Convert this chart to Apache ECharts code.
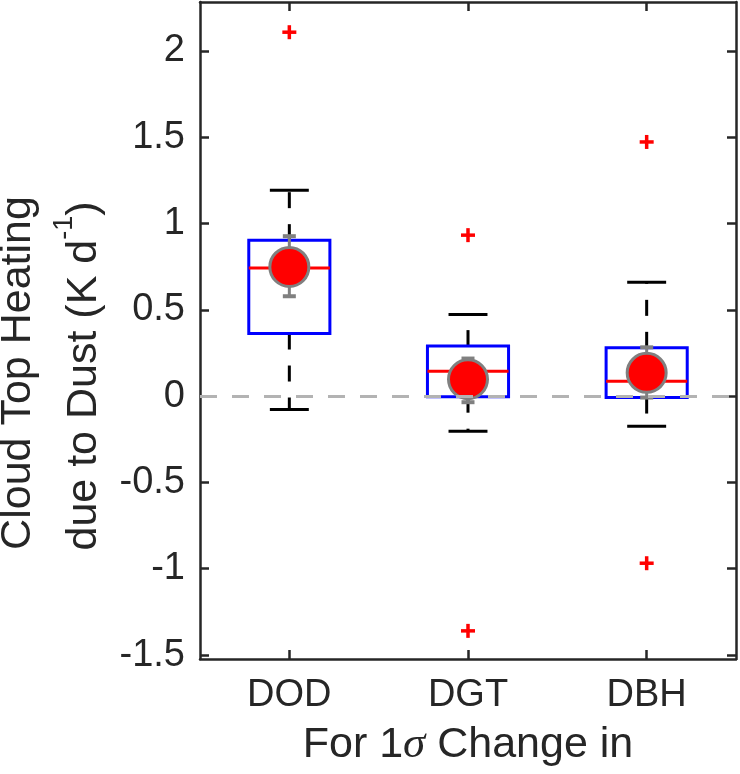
<!DOCTYPE html>
<html>
<head>
<meta charset="utf-8">
<script src="https://cdn.jsdelivr.net/npm/echarts@6.0.0/dist/echarts.min.js"></script>
<style>
  html, body { margin: 0; padding: 0; background: #ffffff; }
  #chart { width: 740px; height: 774px; }
</style>
</head>
<body>
<div id="chart"></div>
<script>
// ---- data ----
const categories = ['DOD', 'DGT', 'DBH'];
const lowerWhisker = [-0.077, -0.203, -0.174];
const q1 = [0.363, -0.003, -0.008];
const median = [0.743, 0.145, 0.087];
const q3 = [0.904, 0.290, 0.280];
const upperWhisker = [1.193, 0.473, 0.660];
const meanVal = [0.749, 0.098, 0.135];
const meanLow = [0.579, -0.035, -0.008];
const meanHigh = [0.927, 0.218, 0.283];
const outlierCat = [0, 1, 1, 2, 2];
const outlierVal = [2.109, 0.933, -1.360, 1.473, -0.968];
const yTicks = [-1.5, -1, -0.5, 0, 0.5, 1, 1.5, 2];
const yMin = -1.523, yMax = 2.284;

const FONT = '"Liberation Sans", Arial, Helvetica, sans-serif';
const AX = '#262626';

const boxData = categories.map((c, i) => [i, lowerWhisker[i], q1[i], median[i], q3[i], upperWhisker[i]]);
const meanData = categories.map((c, i) => [i, meanVal[i], meanLow[i], meanHigh[i]]);
const outlierData = outlierCat.map((c, i) => [c, outlierVal[i]]);

const chart = echarts.init(document.getElementById('chart'), null, { renderer: 'canvas' });

function renderBox(params, api) {
  const x = api.value(0);
  const band = api.size([1, 0])[0];
  const hw = band * 0.227;   // box half width
  const cw = band * 0.109;   // whisker cap half width
  const pLow = api.coord([x, api.value(1)]);
  const pQ1 = api.coord([x, api.value(2)]);
  const pMed = api.coord([x, api.value(3)]);
  const pQ3 = api.coord([x, api.value(4)]);
  const pUp = api.coord([x, api.value(5)]);
  const cx = pMed[0];
  const whisk = { stroke: '#000000', lineWidth: 3, lineDash: [16, 16] };
  const cap = { stroke: '#000000', lineWidth: 3 };
  return {
    type: 'group',
    children: [
      { type: 'line', shape: { x1: cx, y1: pQ3[1], x2: cx, y2: pUp[1] }, style: whisk },
      { type: 'line', shape: { x1: cx, y1: pQ1[1], x2: cx, y2: pLow[1] }, style: whisk },
      { type: 'line', shape: { x1: cx - cw, y1: pUp[1], x2: cx + cw, y2: pUp[1] }, style: cap },
      { type: 'line', shape: { x1: cx - cw, y1: pLow[1], x2: cx + cw, y2: pLow[1] }, style: cap },
      { type: 'rect', shape: { x: cx - hw, y: pQ3[1], width: 2 * hw, height: pQ1[1] - pQ3[1] },
        style: { fill: 'none', stroke: '#0000FF', lineWidth: 3 } },
      { type: 'line', shape: { x1: cx - hw, y1: pMed[1], x2: cx + hw, y2: pMed[1] },
        style: { stroke: '#FF0000', lineWidth: 3 } }
    ]
  };
}

function renderMean(params, api) {
  const x = api.value(0);
  const pM = api.coord([x, api.value(1)]);
  const pL = api.coord([x, api.value(2)]);
  const pH = api.coord([x, api.value(3)]);
  const cx = pM[0];
  const g = '#808080';
  return {
    type: 'group',
    children: [
      { type: 'line', shape: { x1: cx, y1: pL[1], x2: cx, y2: pH[1] }, style: { stroke: g, lineWidth: 3 } },
      { type: 'line', shape: { x1: cx - 6.5, y1: pL[1], x2: cx + 6.5, y2: pL[1] }, style: { stroke: g, lineWidth: 4 } },
      { type: 'line', shape: { x1: cx - 6.5, y1: pH[1], x2: cx + 6.5, y2: pH[1] }, style: { stroke: g, lineWidth: 4 } },
      { type: 'circle', shape: { cx: cx, cy: pM[1], r: 19.5 }, style: { fill: '#FF0000', stroke: g, lineWidth: 3 } }
    ]
  };
}

function renderOutlier(params, api) {
  const p = api.coord([api.value(0), api.value(1)]);
  const s = 7;
  const st = { stroke: '#FF0000', lineWidth: 3.5 };
  return {
    type: 'group',
    children: [
      { type: 'line', shape: { x1: p[0] - s, y1: p[1], x2: p[0] + s, y2: p[1] }, style: st },
      { type: 'line', shape: { x1: p[0], y1: p[1] - s, x2: p[0], y2: p[1] + s }, style: st }
    ]
  };
}

const axisLineStyle = { show: true, onZero: false, lineStyle: { color: AX, width: 2.5 } };

const option = {
  backgroundColor: '#ffffff',
  animation: false,
  grid: { left: 200, right: 4, top: 2, bottom: 115, containLabel: false },
  xAxis: [
    {
      type: 'category', data: categories, position: 'bottom', boundaryGap: true,
      axisLine: axisLineStyle,
      axisTick: { show: true, inside: true, alignWithLabel: true, length: 9, lineStyle: { color: AX, width: 2.5 } },
      axisLabel: { show: true, margin: 18, color: AX, fontSize: 38, fontFamily: FONT },
      splitLine: { show: false },
      name: 'For 1{s|σ} Change in', nameLocation: 'middle', nameGap: 64,
      nameTextStyle: {
        color: AX, fontSize: 43, fontFamily: FONT,
        rich: { s: { color: AX, fontSize: 45, fontFamily: '"Liberation Serif", "DejaVu Serif", serif', fontStyle: 'italic' } }
      }
    },
    {
      type: 'category', data: categories, position: 'top', boundaryGap: true,
      axisLine: axisLineStyle,
      axisTick: { show: true, inside: true, alignWithLabel: true, length: 9, lineStyle: { color: AX, width: 2.5 } },
      axisLabel: { show: false }, splitLine: { show: false }
    }
  ],
  yAxis: [
    {
      type: 'value', min: yMin, max: yMax, position: 'left',
      axisLine: axisLineStyle,
      axisTick: { show: true, inside: true, length: 9, customValues: yTicks, lineStyle: { color: AX, width: 2.5 } },
      axisLabel: { show: true, margin: 15, color: AX, fontSize: 38, fontFamily: FONT, customValues: yTicks },
      splitLine: { show: false }
    },
    {
      type: 'value', min: yMin, max: yMax, position: 'right',
      axisLine: axisLineStyle,
      axisTick: { show: true, inside: true, length: 9, customValues: yTicks, lineStyle: { color: AX, width: 2.5 } },
      axisLabel: { show: false }, splitLine: { show: false }
    }
  ],
  graphic: [
    {
      type: 'text', x: 18, y: 373, rotation: Math.PI / 2, silent: true,
      style: { text: 'Cloud Top Heating', fill: AX, fontSize: 43, fontFamily: FONT, align: 'center', verticalAlign: 'middle' }
    },
    {
      type: 'text', x: 84, y: 376, rotation: Math.PI / 2, silent: true,
      style: {
        text: '{a|due to Dust (K d}{s|-1}{a|)}', align: 'center', verticalAlign: 'middle',
        rich: {
          a: { fill: AX, fontSize: 43, fontFamily: FONT, lineHeight: 72 },
          s: { fill: AX, fontSize: 27, fontFamily: FONT, lineHeight: 27, verticalAlign: 'middle', padding: [0, 0, 38, 0] }
        }
      }
    }
  ],
  series: [
    { name: 'box', type: 'custom', renderItem: renderBox, data: boxData, z: 2, xAxisIndex: 0, yAxisIndex: 0,
      encode: { x: 0, y: [1, 2, 3, 4, 5] } },
    { name: 'mean', type: 'custom', renderItem: renderMean, data: meanData, z: 3, xAxisIndex: 0, yAxisIndex: 0,
      encode: { x: 0, y: [1, 2, 3] } },
    { name: 'outliers', type: 'custom', renderItem: renderOutlier, data: outlierData, z: 3, xAxisIndex: 0, yAxisIndex: 0,
      encode: { x: 0, y: 1 } },
    { name: 'zero', type: 'line', data: [], z: 10, xAxisIndex: 0, yAxisIndex: 0,
      markLine: {
        silent: true, symbol: ['none', 'none'], label: { show: false },
        lineStyle: { color: '#B3B3B3', type: [17, 15], width: 3 },
        data: [{ yAxis: 0 }]
      }
    }
  ]
};

chart.setOption(option);
</script>
</body>
</html>
